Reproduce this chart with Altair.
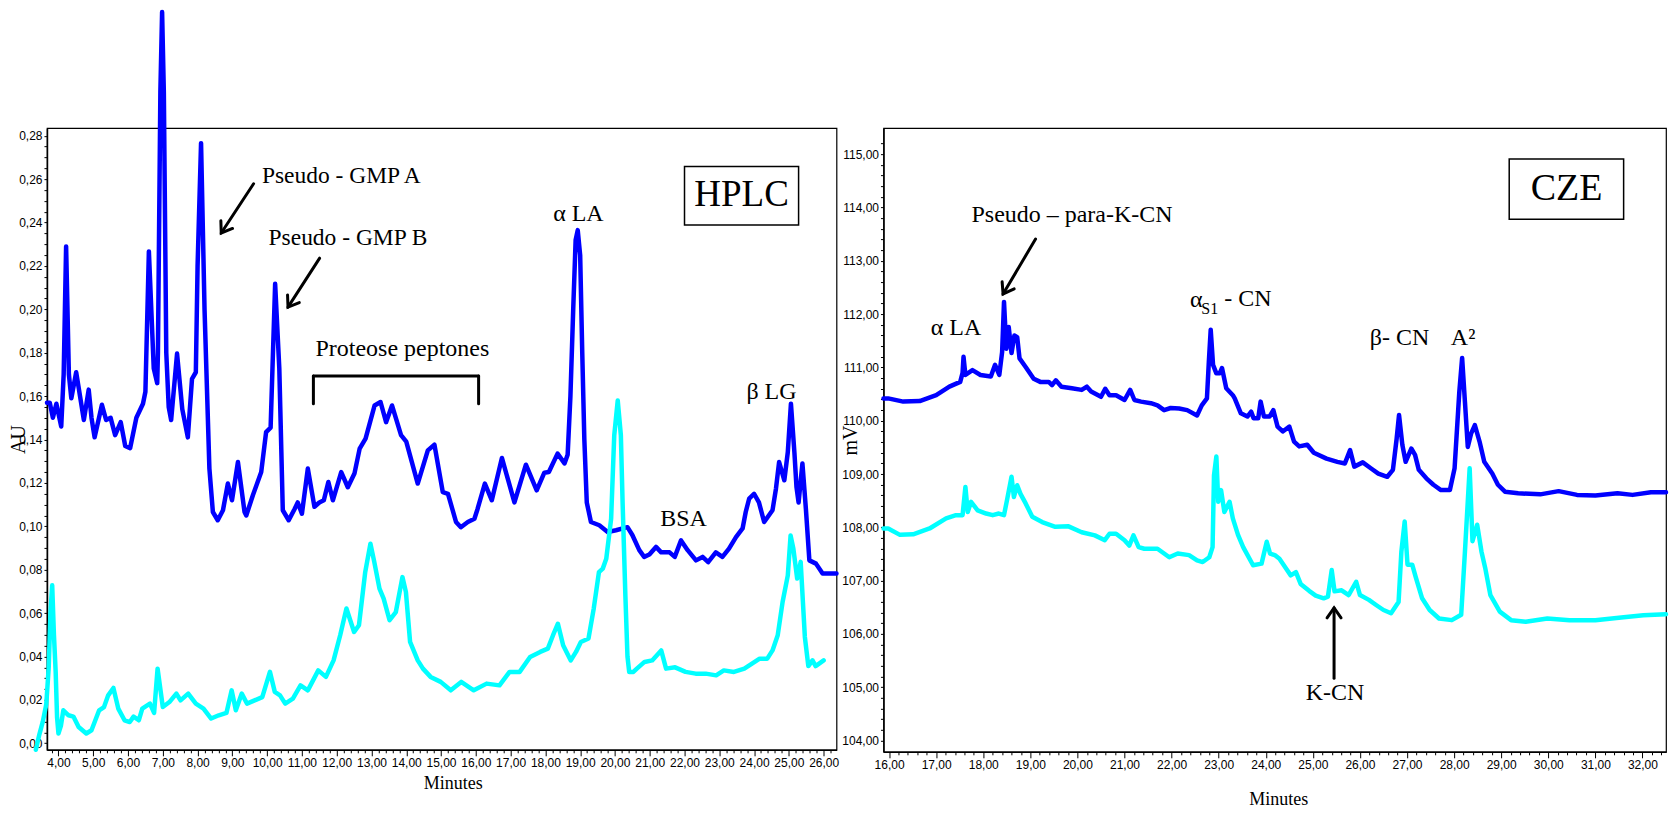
import math
import altair as alt
import pandas as pd

SANS = "Liberation Sans, Arial, sans-serif"
SERIF = "Liberation Serif, Times New Roman, serif"
BLUE = "#0000FF"
CYAN = "#00FFFF"

# ---------------- HPLC traces (minutes, AU) ----------------
hplc_blue = [
    (3.67, 0.157), (3.75, 0.157), (3.84, 0.150), (3.94, 0.1565), (4.08, 0.146), (4.15, 0.17),
    (4.22, 0.229), (4.30, 0.17), (4.37, 0.159), (4.51, 0.171), (4.62, 0.16), (4.73, 0.149),
    (4.87, 0.163), (4.95, 0.15), (5.04, 0.141), (5.25, 0.156), (5.37, 0.149), (5.50, 0.150),
    (5.63, 0.142), (5.79, 0.148), (5.92, 0.137), (6.06, 0.136), (6.24, 0.150), (6.43, 0.1565),
    (6.50, 0.162), (6.60, 0.2267), (6.74, 0.1727), (6.84, 0.166), (6.86, 0.18), (6.93, 0.30),
    (6.98, 0.337), (7.03, 0.30), (7.10, 0.18), (7.17, 0.155), (7.24, 0.149), (7.41, 0.1796),
    (7.56, 0.154), (7.72, 0.141), (7.84, 0.168), (7.95, 0.171), (8.00, 0.22), (8.10, 0.2766),
    (8.20, 0.20), (8.34, 0.1266), (8.44, 0.1066), (8.58, 0.1028), (8.73, 0.1074), (8.87, 0.1197),
    (8.99, 0.112), (9.16, 0.1296), (9.35, 0.1066), (9.40, 0.105), (9.59, 0.1143), (9.83, 0.125),
    (9.97, 0.1434), (10.10, 0.1455), (10.23, 0.2118), (10.35, 0.1727), (10.45, 0.1074),
    (10.62, 0.1028), (10.79, 0.108), (10.88, 0.111), (11.00, 0.1058), (11.17, 0.1266),
    (11.36, 0.109), (11.50, 0.111), (11.63, 0.112), (11.76, 0.1204), (11.89, 0.112),
    (12.13, 0.125), (12.32, 0.118), (12.51, 0.1243), (12.66, 0.1358), (12.83, 0.1404),
    (13.09, 0.1557), (13.26, 0.1573), (13.42, 0.148), (13.59, 0.1557), (13.85, 0.142),
    (14.00, 0.139), (14.33, 0.1197), (14.62, 0.135), (14.81, 0.1376), (15.05, 0.1158),
    (15.20, 0.115), (15.43, 0.102), (15.57, 0.0996), (15.77, 0.102), (15.96, 0.1035),
    (16.05, 0.108), (16.26, 0.1197), (16.46, 0.112), (16.75, 0.1315), (17.11, 0.111),
    (17.44, 0.1284), (17.75, 0.1166), (17.97, 0.1247), (18.10, 0.125), (18.35, 0.1335),
    (18.55, 0.129), (18.64, 0.133), (18.72, 0.16), (18.80, 0.20), (18.87, 0.232), (18.93, 0.2365),
    (19.00, 0.225), (19.06, 0.18), (19.12, 0.14), (19.19, 0.111), (19.31, 0.102), (19.55, 0.1005),
    (19.79, 0.0974), (20.03, 0.0982), (20.36, 0.0996), (20.50, 0.096), (20.70, 0.089),
    (20.84, 0.0859), (20.99, 0.087), (21.18, 0.0905), (21.33, 0.088), (21.57, 0.088),
    (21.72, 0.0859), (21.90, 0.0935), (22.09, 0.089), (22.33, 0.0843), (22.52, 0.0859),
    (22.68, 0.0835), (22.90, 0.088), (23.09, 0.0859), (23.28, 0.0897), (23.48, 0.095),
    (23.67, 0.099), (23.76, 0.1066), (23.86, 0.1128), (24.00, 0.115), (24.14, 0.111),
    (24.29, 0.102), (24.53, 0.1074), (24.63, 0.1174), (24.72, 0.1296), (24.87, 0.1212),
    (24.97, 0.1342), (25.06, 0.1565), (25.16, 0.134), (25.22, 0.118), (25.28, 0.111),
    (25.39, 0.129), (25.49, 0.108), (25.59, 0.0843), (25.78, 0.0828), (25.97, 0.0782),
    (26.37, 0.0782),
]
hplc_cyan = [
    (3.35, -0.003), (3.45, 0.004), (3.55, 0.010), (3.65, 0.018), (3.72, 0.035), (3.77, 0.060),
    (3.82, 0.0728), (3.87, 0.050), (3.92, 0.0329), (3.96, 0.012), (4.00, 0.0045), (4.07, 0.008),
    (4.14, 0.0152), (4.29, 0.0129), (4.43, 0.0123), (4.58, 0.0075), (4.80, 0.0045), (4.95, 0.006),
    (5.17, 0.0152), (5.31, 0.0167), (5.43, 0.0221), (5.58, 0.0255), (5.72, 0.016), (5.90, 0.0106),
    (6.05, 0.0098), (6.16, 0.0123), (6.31, 0.0106), (6.41, 0.016), (6.63, 0.0183), (6.75, 0.014),
    (6.85, 0.0344), (7.00, 0.0167), (7.19, 0.019), (7.39, 0.0229), (7.51, 0.0198), (7.73, 0.0229),
    (7.95, 0.0183), (8.17, 0.016), (8.39, 0.0114), (8.61, 0.0129), (8.83, 0.014), (8.98, 0.0244),
    (9.10, 0.0152), (9.27, 0.0229), (9.42, 0.0183), (9.64, 0.0198), (9.86, 0.0213), (10.08, 0.0329),
    (10.22, 0.0237), (10.37, 0.0221), (10.52, 0.0183), (10.74, 0.0206), (10.96, 0.0267),
    (11.17, 0.0244), (11.47, 0.0336), (11.69, 0.0306), (11.91, 0.0382), (12.10, 0.0498),
    (12.28, 0.0621), (12.50, 0.0513), (12.64, 0.0544), (12.82, 0.0789), (12.97, 0.092),
    (13.08, 0.0836), (13.23, 0.0713), (13.35, 0.0667), (13.52, 0.0567), (13.70, 0.0605),
    (13.89, 0.0766), (13.99, 0.0697), (14.11, 0.0467), (14.33, 0.0382), (14.48, 0.0344),
    (14.70, 0.0306), (14.99, 0.0283), (15.28, 0.0244), (15.58, 0.0283), (15.94, 0.0244),
    (16.31, 0.0275), (16.68, 0.0267), (16.97, 0.0329), (17.26, 0.0329), (17.56, 0.0398),
    (17.85, 0.0421), (18.07, 0.0436), (18.22, 0.0498), (18.36, 0.0551), (18.51, 0.0452),
    (18.73, 0.0382), (18.88, 0.0421), (19.02, 0.0467), (19.24, 0.0483), (19.39, 0.0621),
    (19.54, 0.0789), (19.65, 0.0805), (19.75, 0.085), (19.89, 0.1035), (19.98, 0.142),
    (20.08, 0.158), (20.17, 0.142), (20.22, 0.111), (20.30, 0.068), (20.36, 0.040),
    (20.41, 0.0329), (20.53, 0.0329), (20.63, 0.0344), (20.85, 0.0375), (21.07, 0.0382),
    (21.33, 0.0428), (21.47, 0.0344), (21.73, 0.035), (22.03, 0.0329), (22.32, 0.0321),
    (22.61, 0.0321), (22.91, 0.0313), (23.13, 0.0336), (23.42, 0.0329), (23.72, 0.0344),
    (23.94, 0.0367), (24.16, 0.039), (24.38, 0.039), (24.53, 0.0428), (24.68, 0.0498),
    (24.82, 0.0651), (24.97, 0.0774), (25.05, 0.0958), (25.13, 0.0897), (25.24, 0.0759),
    (25.34, 0.0836), (25.46, 0.049), (25.56, 0.0356), (25.68, 0.0382), (25.77, 0.0356),
    (26.00, 0.0382),
]

# ---------------- CZE traces (minutes, mV) ----------------
cze_blue = [
    (15.88, 110.42), (15.98, 110.42), (16.30, 110.36), (16.65, 110.37), (17.00, 110.48),
    (17.28, 110.64), (17.51, 110.73), (17.56, 110.90), (17.58, 111.20), (17.62, 110.86),
    (17.77, 110.95), (17.94, 110.86), (18.16, 110.83), (18.25, 111.05), (18.34, 110.86),
    (18.40, 111.29), (18.44, 112.23), (18.49, 111.35), (18.54, 111.76), (18.60, 111.27),
    (18.66, 111.60), (18.72, 111.57), (18.77, 111.17), (18.90, 111.01), (19.07, 110.79),
    (19.21, 110.73), (19.39, 110.73), (19.46, 110.67), (19.54, 110.76), (19.66, 110.64),
    (19.88, 110.61), (20.09, 110.58), (20.20, 110.64), (20.29, 110.55), (20.50, 110.45),
    (20.59, 110.60), (20.68, 110.48), (20.82, 110.48), (21.00, 110.39), (21.12, 110.58),
    (21.21, 110.39), (21.35, 110.36), (21.56, 110.33), (21.70, 110.29), (21.84, 110.20),
    (21.98, 110.24), (22.16, 110.23), (22.33, 110.20), (22.54, 110.10), (22.64, 110.29),
    (22.75, 110.42), (22.79, 111.10), (22.83, 111.71), (22.88, 111.05), (22.95, 110.89),
    (23.02, 110.89), (23.07, 110.99), (23.16, 110.61), (23.30, 110.48), (23.34, 110.42),
    (23.47, 110.14), (23.61, 110.08), (23.69, 110.17), (23.74, 110.05), (23.84, 110.05),
    (23.89, 110.36), (23.96, 110.08), (24.08, 110.08), (24.16, 110.20), (24.25, 109.89),
    (24.36, 109.80), (24.50, 109.89), (24.60, 109.61), (24.71, 109.52), (24.88, 109.55),
    (25.02, 109.40), (25.29, 109.29), (25.52, 109.23), (25.68, 109.20), (25.79, 109.45),
    (25.88, 109.14), (26.06, 109.22), (26.23, 109.11), (26.39, 109.01), (26.58, 108.95),
    (26.70, 109.08), (26.78, 109.67), (26.83, 110.11), (26.90, 109.55), (26.97, 109.23),
    (27.09, 109.48), (27.17, 109.36), (27.25, 109.08), (27.41, 108.92), (27.56, 108.80),
    (27.72, 108.70), (27.91, 108.70), (28.01, 109.11), (28.11, 110.54), (28.17, 111.18),
    (28.23, 110.35), (28.29, 109.51), (28.36, 109.76), (28.44, 109.92), (28.54, 109.61),
    (28.64, 109.23), (28.81, 109.01), (28.93, 108.80), (29.08, 108.67), (29.36, 108.64),
    (29.83, 108.62), (30.22, 108.68), (30.61, 108.61), (31.00, 108.60), (31.47, 108.64),
    (31.79, 108.61), (32.18, 108.66), (32.50, 108.66),
]
cze_cyan = [
    (15.88, 107.98), (15.98, 107.98), (16.23, 107.86), (16.51, 107.87), (16.86, 107.98),
    (17.21, 108.17), (17.42, 108.23), (17.56, 108.23), (17.62, 108.76), (17.67, 108.29),
    (17.74, 108.48), (17.88, 108.32), (18.06, 108.26), (18.20, 108.23), (18.33, 108.26),
    (18.44, 108.23), (18.51, 108.54), (18.60, 108.95), (18.65, 108.57), (18.72, 108.79),
    (18.79, 108.63), (18.90, 108.45), (19.04, 108.20), (19.25, 108.10), (19.53, 108.01),
    (19.81, 108.02), (20.09, 107.91), (20.37, 107.85), (20.58, 107.76), (20.68, 107.88),
    (20.82, 107.88), (21.00, 107.76), (21.10, 107.66), (21.19, 107.85), (21.30, 107.63),
    (21.42, 107.60), (21.70, 107.60), (21.84, 107.51), (21.95, 107.44), (22.13, 107.51),
    (22.37, 107.48), (22.54, 107.38), (22.66, 107.35), (22.80, 107.44), (22.87, 107.63),
    (22.90, 108.98), (22.95, 109.33), (22.99, 108.48), (23.05, 108.70), (23.12, 108.29),
    (23.23, 108.48), (23.30, 108.17), (23.41, 107.86), (23.52, 107.63), (23.73, 107.29),
    (23.91, 107.32), (24.02, 107.73), (24.09, 107.51), (24.19, 107.48), (24.29, 107.41),
    (24.43, 107.23), (24.53, 107.10), (24.64, 107.16), (24.74, 106.94), (24.92, 106.81),
    (25.06, 106.72), (25.23, 106.67), (25.32, 106.70), (25.40, 107.20), (25.46, 106.80),
    (25.61, 106.82), (25.76, 106.73), (25.92, 106.98), (26.00, 106.73), (26.19, 106.64),
    (26.35, 106.54), (26.50, 106.45), (26.66, 106.39), (26.82, 106.60), (26.88, 107.55),
    (26.95, 108.11), (27.01, 107.30), (27.11, 107.30), (27.18, 107.08), (27.32, 106.67),
    (27.48, 106.45), (27.68, 106.29), (27.95, 106.26), (28.15, 106.36), (28.23, 107.55),
    (28.33, 109.11), (28.39, 107.74), (28.49, 108.05), (28.58, 107.55), (28.66, 107.24),
    (28.77, 106.73), (28.97, 106.42), (29.21, 106.26), (29.52, 106.23), (29.98, 106.29),
    (30.45, 106.26), (31.00, 106.26), (31.55, 106.31), (32.02, 106.35), (32.50, 106.37),
]

# ---------------- annotations (data coordinates) ----------------
hplc_text_left = [("Pseudo - GMP A", 9.85, 0.2613, 23.5), ("Pseudo - GMP B", 10.04, 0.233, 23.5),
                  ("Proteose peptones", 11.39, 0.1819, 24)]
hplc_text_center = [("α LA", 18.95, 0.244, 24), ("BSA", 21.97, 0.1032, 24), ("β LG", 24.5, 0.1619, 24)]
hplc_box = [(22.0, 25.28, 0.2389, 0.2658)]
hplc_box_text = [("HPLC", 23.64, 0.2525, 37)]
hplc_bracket = [(11.33, 0.1565, 11.33, 0.1693), (11.33, 0.1693, 16.08, 0.1693), (16.08, 0.1693, 16.08, 0.1565)]
hplc_arrows = [(9.61, 0.2579, 8.68, 0.2352), (11.51, 0.2236, 10.60, 0.201)]

cze_text_left = [("Pseudo – para-K-CN", 17.75, 113.86, 24), ("α", 22.39, 112.26, 24),
                 ("S1", 22.63, 112.10, 16), ("- CN", 23.12, 112.29, 24)]
cze_text_center = [("α LA", 17.42, 111.74, 24), ("β- CN", 26.84, 111.55, 24),
                   ("A²", 28.19, 111.55, 24), ("K-CN", 25.47, 104.89, 24)]
cze_box = [(29.17, 31.6, 113.78, 114.91)]
cze_box_text = [("CZE", 30.39, 114.34, 38)]
cze_bracket = []
cze_arrows = [(19.11, 113.41, 18.42, 112.38), (25.45, 105.17, 25.45, 106.49)]

HEAD = "M -0.7 1 L 0 0 L 0.7 1"


def num_label(test):
    return f"{test} ? replace(format(datum.value, '.2f'), '.', ',') : ''"


def make_axis(values, title, test, orient, title_x, title_pad, title_size):
    common = dict(
        values=values, title=title, titleFont=SERIF, titleFontSize=title_size,
        titleFontWeight="normal", titleColor="black", titleX=title_x, titlePadding=title_pad,
        labelExpr=num_label(test), labelFont=SANS, labelFontSize=12, labelColor="black",
        labelOverlap=False, labelFlush=False, labelPadding=2,
        tickColor="black", tickWidth=1, domainColor="black", domainWidth=1.5, grid=False,
    )
    if orient == "bottom":
        common.update(tickSize={"condition": {"test": test, "value": 6}, "value": 3},
                      titleAlign="center")
    else:
        common.update(tickSize=3, titleBaseline="middle", titleAlign="center")
    return alt.Axis(**common)


def panel(blue, cyan, xdom, ydom, width, height, x_axis, y_axis,
          t_left, t_center, box, box_text, bracket, arrows):
    xs = alt.Scale(domain=xdom, nice=False, zero=False)
    ys = alt.Scale(domain=ydom, nice=False, zero=False)

    def X(f):
        return alt.X(f, type="quantitative", scale=xs, axis=x_axis)

    def Y(f):
        return alt.Y(f, type="quantitative", scale=ys, axis=y_axis)

    layers = []
    dfb = pd.DataFrame(blue, columns=["t", "v"])
    layers.append(alt.Chart(dfb).mark_line(color=BLUE, strokeWidth=4.5, strokeJoin="round", strokeCap="round")
                  .encode(x=X("t"), y=Y("v")))
    dfc = pd.DataFrame(cyan, columns=["t", "v"])
    layers.append(alt.Chart(dfc).mark_line(color=CYAN, strokeWidth=4.5, strokeJoin="round", strokeCap="round")
                  .encode(x=X("t"), y=Y("v")))

    dbox = pd.DataFrame(box, columns=["t", "t2", "v", "v2"])
    layers.append(alt.Chart(dbox).mark_rect(fill="white", stroke="black", strokeWidth=1.5)
                  .encode(x=X("t"), x2="t2:Q", y=Y("v"), y2="v2:Q"))

    for rows, align in ((box_text, "center"), (t_left, "left"), (t_center, "center")):
        d = pd.DataFrame(rows, columns=["label", "t", "v", "fs"])
        layers.append(alt.Chart(d).mark_text(align=align, baseline="middle", font=SERIF, color="black")
                      .encode(x=X("t"), y=Y("v"), text="label:N", size=alt.Size("fs:Q", scale=None, legend=None)))

    segs = list(bracket) + [(a[0], a[1], a[2], a[3]) for a in arrows]
    if segs:
        d = pd.DataFrame(segs, columns=["t", "v", "t2", "v2"])
        layers.append(alt.Chart(d).mark_rule(color="black", strokeWidth=3, strokeCap="round")
                      .encode(x=X("t"), y=Y("v"), x2="t2:Q", y2="v2:Q"))

    pxx = width / (xdom[1] - xdom[0])
    pxy = height / (ydom[1] - ydom[0])
    heads = []
    for t1, v1, t2, v2 in arrows:
        dx = (t2 - t1) * pxx
        dy = -(v2 - v1) * pxy
        ang = math.degrees(math.atan2(dx, -dy)) % 360
        heads.append((t2, v2, ang))
    dh = pd.DataFrame(heads, columns=["t", "v", "ang"])
    layers.append(alt.Chart(dh).mark_point(shape=HEAD, size=400, filled=False, stroke="black",
                                           strokeWidth=3, opacity=1, strokeCap="round", strokeJoin="miter")
                  .encode(x=X("t"), y=Y("v"), angle=alt.Angle("ang:Q", scale=None)))

    return alt.layer(*layers).properties(width=width, height=height)


INT_TEST = "abs(datum.value - round(datum.value)) < 0.01"
AU_TEST = "abs(datum.value * 50 - round(datum.value * 50)) < 0.01"

L_W, L_H = 790, 622
R_W, R_H = 783, 624

left_x_vals = [round(3.8 + 0.2 * i, 1) for i in range(113)]
left_y_vals = [round(0.005 * i, 3) for i in range(57)]
right_x_vals = [round(16 + 0.2 * i, 1) for i in range(83)]
right_y_vals = [round(104 + 0.2 * i, 1) for i in range(57)]

left = panel(
    hplc_blue, hplc_cyan, [3.67, 26.37], [-0.003, 0.2835], L_W, L_H,
    make_axis(left_x_vals, "Minutes", INT_TEST, "bottom", 406, 6, 18),
    make_axis(left_y_vals, "AU", AU_TEST, "left", -28, 0, 20),
    hplc_text_left, hplc_text_center, hplc_box, hplc_box_text, hplc_bracket, hplc_arrows,
)
right = panel(
    cze_blue, cze_cyan, [15.88, 32.5], [103.79, 115.49], R_W, R_H,
    make_axis(right_x_vals, "Minutes", INT_TEST, "bottom", 395, 20, 18),
    make_axis(right_y_vals, "mV", INT_TEST, "left", -33, 0, 20),
    cze_text_left, cze_text_center, cze_box, cze_box_text, cze_bracket, cze_arrows,
)

chart = (
    alt.hconcat(left, right, spacing=47, bounds="flush", padding=0, background="white")
    .configure_view(stroke="black", strokeWidth=1.2)
)

chart.save("out.html", embed_options={"renderer": "svg", "actions": False})
